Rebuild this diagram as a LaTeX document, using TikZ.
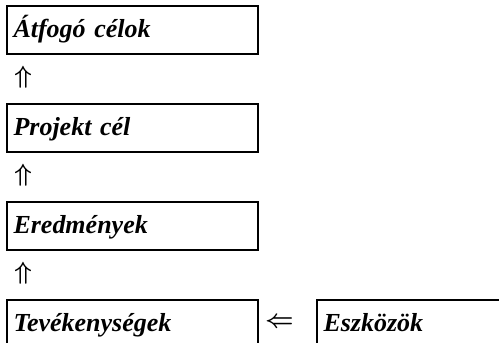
\documentclass[tikz,border=0pt]{standalone}
\usepackage{fontspec}
\setmainfont{Liberation Serif}
\begin{document}
\begin{tikzpicture}[x=1pt,y=-1pt]
\tikzstyle{doboz}=[draw, line width=2pt, anchor=north west, minimum height=48pt, text width=237pt, inner xsep=7pt, text height=20.5pt, text depth=4.5pt, align=left, font=\fontsize{26}{30}\selectfont\bfseries\itshape]
\tikzstyle{nyil}=[inner sep=0, font=\fontsize{28}{28}\selectfont\boldmath]
\useasboundingbox(0,0)rectangle(499,343);
\clip(0,0)rectangle(499,343);
% a celok oszlopa
\node[doboz](atfogo)at(5.5,4.5){Átfogó célok};
\node[doboz](projekt)at(5.5,102.5){Projekt cél};
\node[doboz](eredmeny)at(5.5,200.5){Eredmények};
\node[doboz](tevekeny)at(5.5,298.5){Tevékenységek};
\node[doboz](eszkoz)at(315.5,298.5){Eszközök};
% nyilak
\node[nyil](ny1)at(23,77){$\Uparrow$};
\node[nyil](ny2)at(23,175){$\Uparrow$};
\node[nyil](ny3)at(23,273){$\Uparrow$};
\node[nyil, font=\fontsize{30}{30}\selectfont\boldmath](ny4)at(279.5,322.5){$\Leftarrow$};
\end{tikzpicture}
\end{document}
